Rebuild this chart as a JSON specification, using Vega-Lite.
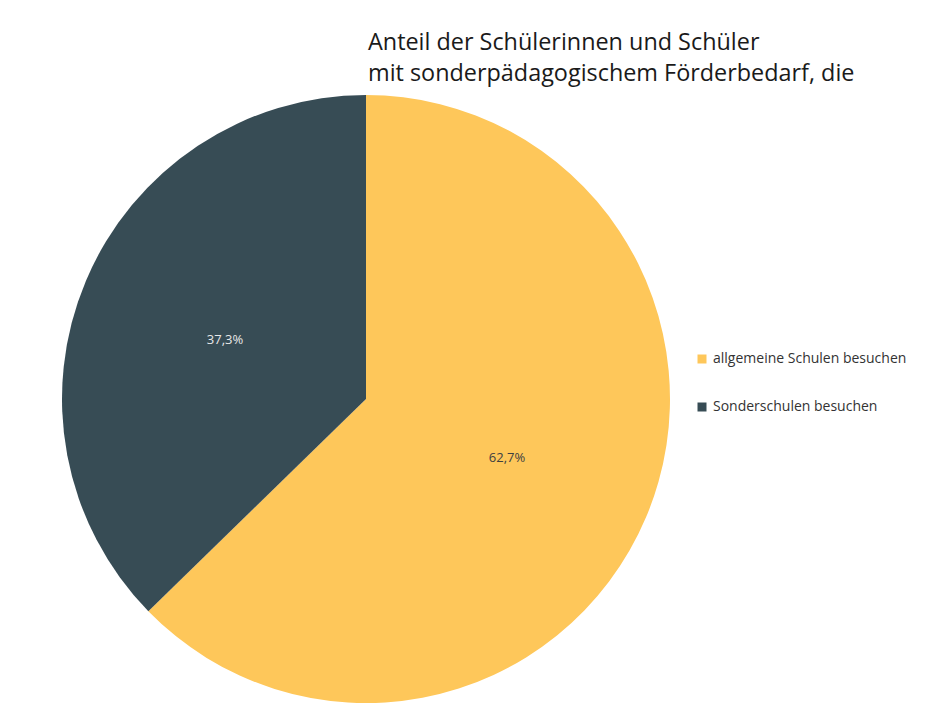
{
  "$schema": "https://vega.github.io/schema/vega-lite/v6.json",
  "autosize": {"type": "none"},
  "width": 608,
  "height": 608,
  "padding": {"left": 62, "top": 95, "right": 272, "bottom": 10},
  "background": "white",
  "title": {
    "text": ["Anteil der Schülerinnen und Schüler", "mit sonderpädagogischem Förderbedarf, die"],
    "anchor": "start",
    "frame": "group",
    "dx": 306,
    "offset": 9,
    "fontSize": 23.4,
    "fontWeight": "normal",
    "font": "Open Sans",
    "color": "#1a1a1a",
    "lineHeight": 31
  },
  "data": {
    "values": [
      {"category": "allgemeine Schulen besuchen", "value": 62.7, "label": "62,7%"},
      {"category": "Sonderschulen besuchen", "value": 37.3, "label": "37,3%"}
    ]
  },
  "encoding": {
    "theta": {"field": "value", "type": "quantitative", "stack": true},
    "order": {"field": "value", "type": "quantitative", "sort": "descending"}
  },
  "layer": [
    {
      "mark": {"type": "arc"},
      "encoding": {
        "color": {
          "field": "category",
          "type": "nominal",
          "scale": {
            "domain": ["allgemeine Schulen besuchen", "Sonderschulen besuchen"],
            "range": ["#FEC75A", "#374C55"]
          },
          "legend": {
            "title": null,
            "orient": "none",
            "legendX": 633,
            "legendY": 257,
            "padding": 0,
            "symbolType": "square",
            "symbolSize": 81,
            "symbolStrokeWidth": 0,
            "labelFontSize": 14,
            "labelFont": "Open Sans",
            "labelColor": "#333333",
            "labelOffset": 4,
            "rowPadding": 34,
            "labelLimit": 400
          }
        }
      }
    },
    {
      "mark": {"type": "text", "radius": 153, "fontSize": 13, "font": "Open Sans"},
      "encoding": {
        "text": {"field": "label", "type": "nominal"},
        "color": {
          "condition": {"test": "datum.value < 50", "value": "#e8e8e8"},
          "value": "#404040"
        }
      }
    }
  ],
  "config": {"view": {"stroke": null}}
}
